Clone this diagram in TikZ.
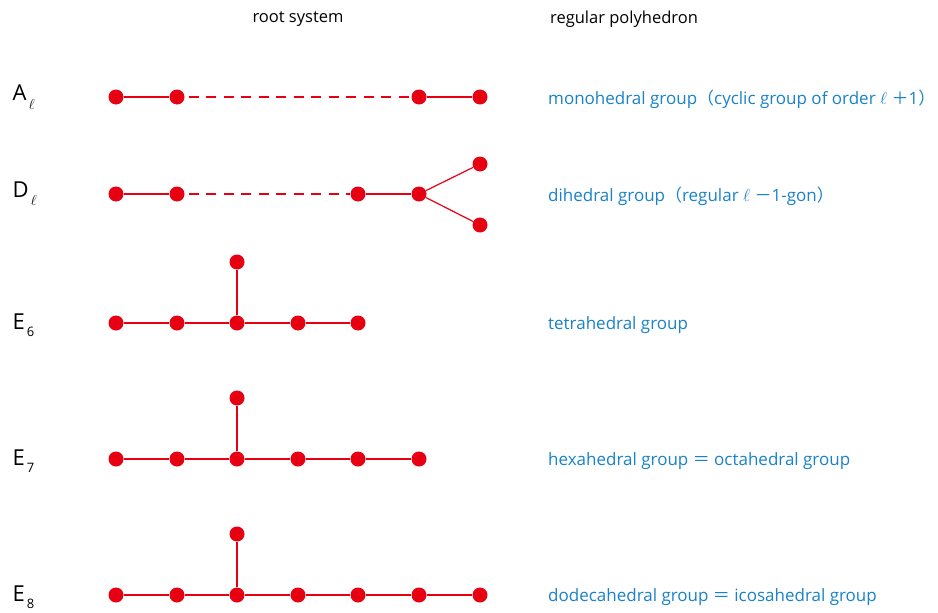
\documentclass[tikz,border=0pt]{standalone}
\usepackage{fontspec}
\setmainfont{Open Sans}
\newfontfamily\cjkfont{Noto Sans CJK JP}
\definecolor{dred}{RGB}{230,0,18}
\definecolor{tblue}{RGB}{25,130,200}
\begin{document}
\begin{tikzpicture}[x=1pt,y=-1pt,
  dot/.style={circle,fill=dred,inner sep=0pt,minimum size=15pt},
  edge/.style={draw=dred,line width=1.2pt},
  dashedge/.style={draw=dred,line width=1.2pt,dash pattern=on 10pt off 7.5pt,dash phase=-4pt},
  rowlab/.style={anchor=west,font=\fontsize{22}{26}\selectfont},
  grp/.style={anchor=west,text=tblue,font=\fontsize{17}{20}\selectfont,inner sep=0pt},
  head/.style={font=\fontsize{16.5}{20}\selectfont,inner sep=0pt}]
\useasboundingbox (0,0) rectangle (938,613);
% headers
\node[head] (h1) at (298,19) {root system};
\node[head] (h2) at (624,19) {regular polyhedron};
% row labels
\node[rowlab] (lA) at (9,97) {A\raisebox{-0.7ex}{\fontsize{14}{14}\selectfont\,$\ell$}};
\node[rowlab] (lD) at (9,194) {D\raisebox{-0.7ex}{\fontsize{14}{14}\selectfont\,$\ell$}};
\node[rowlab] (l6) at (9,325) {E\raisebox{-0.6ex}{\fontsize{13}{13}\selectfont\,6}};
\node[rowlab] (l7) at (9,461) {E\raisebox{-0.6ex}{\fontsize{13}{13}\selectfont\,7}};
\node[rowlab] (l8) at (9,597) {E\raisebox{-0.6ex}{\fontsize{13}{13}\selectfont\,8}};
% A_l
\node[dot] (a1) at (116,97) {};
\node[dot] (a2) at (177,97) {};
\node[dot] (a3) at (419,97) {};
\node[dot] (a4) at (480,97) {};
\draw[edge] (a1) -- (a2);
\draw[dashedge] (a2) -- (a3);
\draw[edge] (a3) -- (a4);
% D_l
\node[dot] (d1) at (116,194) {};
\node[dot] (d2) at (177,194) {};
\node[dot] (d3) at (358,194) {};
\node[dot] (d4) at (419,194) {};
\node[dot] (d5) at (480,164) {};
\node[dot] (d6) at (480,225) {};
\draw[edge] (d1) -- (d2);
\draw[dashedge] (d2) -- (d3);
\draw[edge] (d3) -- (d4);
\draw[edge] (d4) -- (d5);
\draw[edge] (d4) -- (d6);
% E6
\foreach \i/\x in {1/116,2/177,3/237,4/298,5/358} \node[dot] (e6\i) at (\x,323) {};
\node[dot] (e6t) at (237,262) {};
\draw[edge] (e61) -- (e62) -- (e63) -- (e64) -- (e65);
\draw[edge] (e63) -- (e6t);
% E7
\foreach \i/\x in {1/116,2/177,3/237,4/298,5/358,6/419} \node[dot] (e7\i) at (\x,459) {};
\node[dot] (e7t) at (237,398) {};
\draw[edge] (e71) -- (e72) -- (e73) -- (e74) -- (e75) -- (e76);
\draw[edge] (e73) -- (e7t);
% E8
\foreach \i/\x in {1/116,2/177,3/237,4/298,5/358,6/419,7/480} \node[dot] (e8\i) at (\x,595) {};
\node[dot] (e8t) at (237,534) {};
\draw[edge] (e81) -- (e82) -- (e83) -- (e84) -- (e85) -- (e86) -- (e87);
\draw[edge] (e83) -- (e8t);
% groups
\node[grp] (gA) at (548,99) {monohedral group{\cjkfont （}cyclic group of order $\ell$ {\cjkfont ＋}1{\cjkfont ）}};
\node[grp] (gD) at (548,196) {dihedral group{\cjkfont （}regular $\ell$ {\cjkfont －}1-gon{\cjkfont ）}};
\node[grp] (g6) at (548,325) {tetrahedral group};
\node[grp] (g7) at (548,461) {hexahedral group\ {\cjkfont ＝}\ octahedral group};
\node[grp] (g8) at (548,597) {dodecahedral group\ {\cjkfont ＝}\ icosahedral group};
\end{tikzpicture}
\end{document}
